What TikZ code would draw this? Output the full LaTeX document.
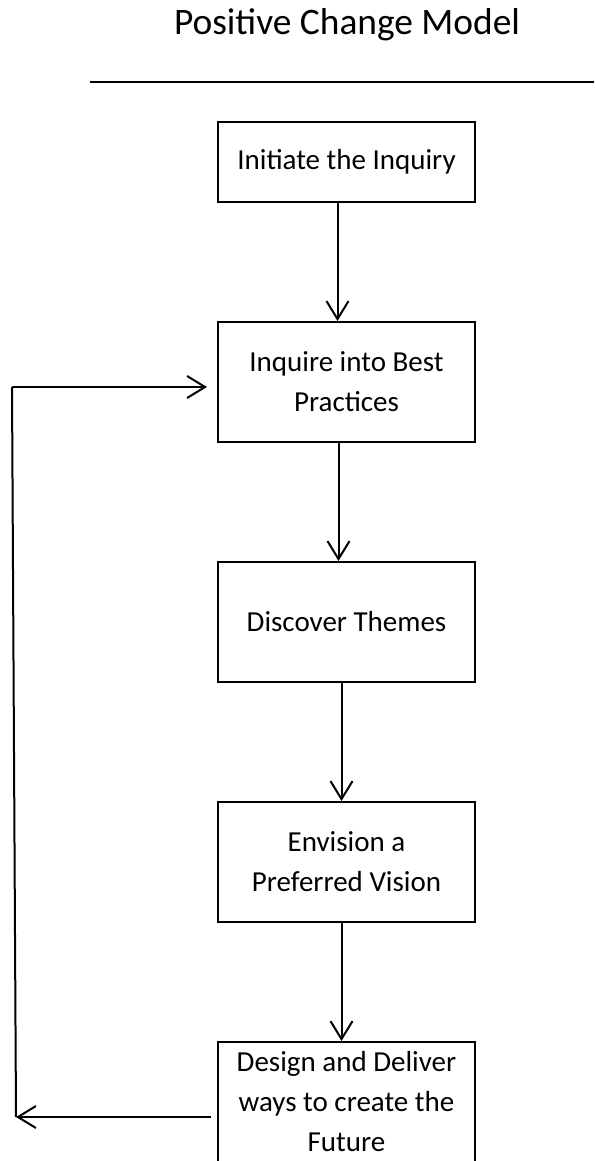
\documentclass[tikz,border=0pt]{standalone}
\usepackage{fontspec}
\setmainfont{Carlito}
\usetikzlibrary{arrows.meta, positioning}

\tikzset{
  stage/.style={draw, line width=1pt, minimum width=128.5pt, minimum height=60pt,
    inner sep=0pt, align=center, font=\fontsize{14.5}{20}\selectfont},
  flow/.style={-{Straight Barb[length=9pt,width=11pt]}, line width=1pt}
}

\begin{document}
\begin{tikzpicture}[x=0.5pt, y=-0.5pt, line width=1pt, node distance=59pt]
        \useasboundingbox (0,0) rectangle (594,1161);
        % heading
        \node[anchor=base, font=\fontsize{18.7}{22}\selectfont] (title) at (347,35) {Positive Change Model};
        \draw (90,82) -- (594,82);
        % stages
        \node[stage, minimum height=40pt] (initiate) at (346.5,162) {Initiate the Inquiry};
        \node[stage, below=of initiate] (inquire) {Inquire into Best\\Practices};
        \node[stage, below=of inquire] (discover) {Discover Themes};
        \node[stage, below=of discover] (envision) {Envision a\\Preferred Vision};
        \node[stage, below=of envision] (design) {Design and Deliver\\ways to create the\\Future};
        \draw[flow] ([xshift=-4.5pt]initiate.south) -- ([xshift=-4.5pt]inquire.north);
        \draw[flow] ([xshift=-4pt]inquire.south) -- ([xshift=-4pt]discover.north);
        \draw[flow] ([xshift=-2.5pt]discover.south) -- ([xshift=-2.5pt]envision.north);
        \draw[flow] ([xshift=-2.5pt]envision.south) -- ([xshift=-2.5pt]design.north);
        % loop back
        \coordinate (loopbot) at (16,1117);
        \coordinate (looptop) at (12,387);
        \draw[flow, shorten <=3pt] (loopbot -| design.west) -- (loopbot);
        \draw (loopbot) -- (looptop);
        \draw[flow, shorten >=5pt] (looptop) -- (looptop -| inquire.west);
    \end{tikzpicture}
\end{document}
